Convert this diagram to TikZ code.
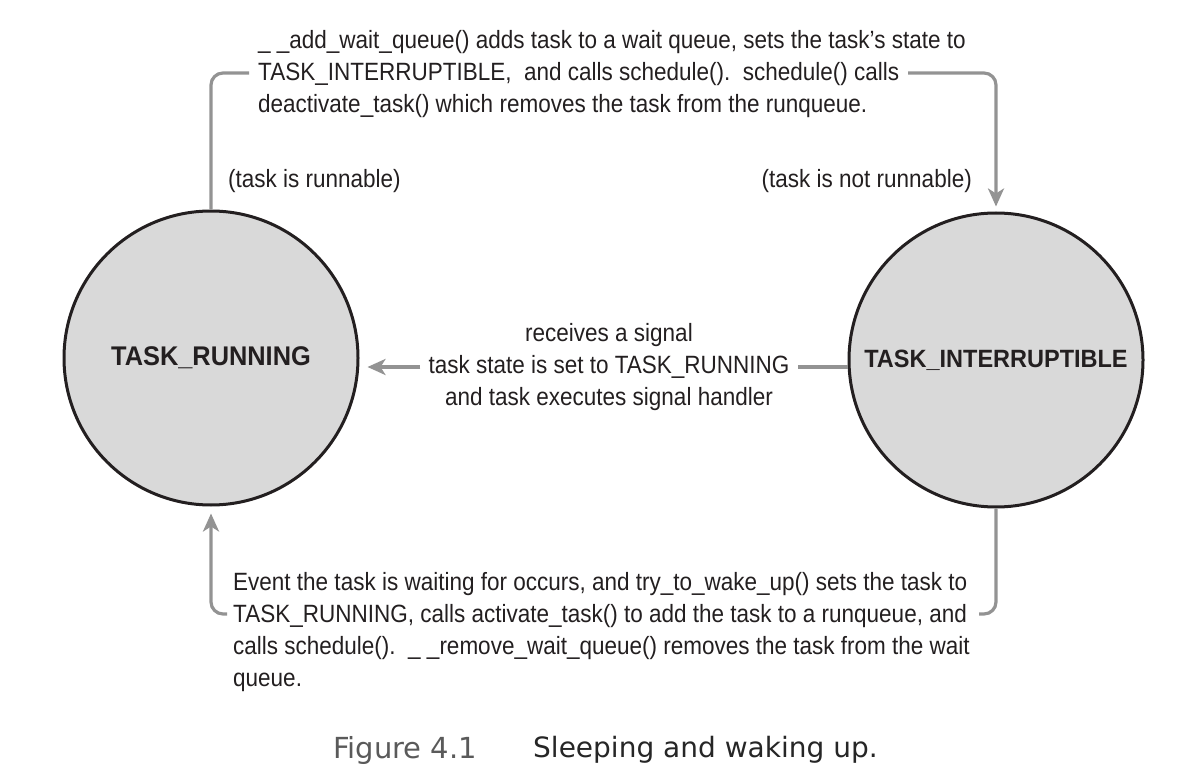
\documentclass[tikz,border=0pt]{standalone}
\usepackage{fontspec}
\setmainfont{Liberation Sans}
\newfontfamily\txtfont[FakeStretch=0.90]{Liberation Sans}
\newfontfamily\boldfont[FakeStretch=0.94]{Liberation Sans}
\newfontfamily\capfont{DejaVu Sans}
\usetikzlibrary{arrows.meta}
\definecolor{ink}{HTML}{231F20}
\definecolor{fillgray}{HTML}{D9D9D9}
\definecolor{conngray}{HTML}{939393}
\definecolor{figgray}{HTML}{5A5A5A}
\definecolor{capink}{HTML}{262626}
\tikzset{
  statecircle/.style={circle, draw=ink, line width=3pt, fill=fillgray,
    minimum size=294pt, inner sep=0pt, text=ink,
    font=\boldfont\bfseries\fontsize{27pt}{30pt}\selectfont},
  longlabel/.style={font=\boldfont\bfseries\fontsize{25pt}{30pt}\selectfont},
  desc/.style={inner sep=0pt, text=ink,
    font=\txtfont\fontsize{25pt}{32pt}\selectfont},
  conn/.style={draw=conngray, line width=3.2pt, rounded corners=12pt},
  arrowend/.style={-{Stealth[length=18pt,width=16pt,inset=5pt]}},
}
\begin{document}
\begin{tikzpicture}[x=1pt,y=-1pt]
\useasboundingbox (0,0) rectangle (1178,775);

% states
\node[statecircle] (run) at (211,358) {TASK\_RUNNING};
\node[statecircle, longlabel] (int) at (996,360) {TASK\_INTERRUPTIBLE};

% top description
\node[desc, align=left, anchor=west] (toptxt) at (258,74)
  {\_ \_add\_wait\_queue() adds task to a wait queue, sets the task’s state to\\
   TASK\_INTERRUPTIBLE,\ \ and calls schedule().\ \ schedule() calls\\
   deactivate\_task() which removes the task from the runqueue.};
\coordinate (tl) at (249,73);
\coordinate (tr) at (908,73);
\draw[conn] (run.north) |- (tl);
\draw[conn, arrowend, shorten >=5pt] (tr) -| (int.north);

\node[desc, anchor=west] (runnable) at (228,181) {(task is runnable)};
\node[desc, anchor=east] (notrunnable) at (972,181) {(task is not runnable)};

% middle description
\node[desc, align=center, inner xsep=8pt] (midtxt) at (609,367)
  {receives a signal\\
   task state is set to TASK\_RUNNING\\
   and task executes signal handler};
\draw[conn] (int.west |- midtxt.east) -- (midtxt.east);
\draw[conn, arrowend, shorten >=8pt] (midtxt.west) -- (run.east |- midtxt.west);

% bottom description
\node[desc, align=left, anchor=west] (bottxt) at (233,632)
  {Event the task is waiting for occurs, and try\_to\_wake\_up() sets the task to\\
   TASK\_RUNNING, calls activate\_task() to add the task to a runqueue, and\\
   calls schedule().\ \ \_ \_remove\_wait\_queue() removes the task from the wait\\
   queue.};
\coordinate (bl) at (227,614);
\coordinate (br) at (979,614);
\draw[conn, arrowend, shorten >=7pt] (bl) -| (run.south);
\draw[conn] (int.south) |- (br);

% caption
\node[anchor=west, inner sep=0pt, text=figgray,
  font=\capfont\fontsize{29pt}{32pt}\selectfont] (figlab) at (333,750) {Figure 4.1};
\node[anchor=west, inner sep=0pt, text=capink,
  font=\capfont\fontsize{28pt}{32pt}\selectfont] (figcap) at (533,750) {Sleeping and waking up.};
\end{tikzpicture}
\end{document}
